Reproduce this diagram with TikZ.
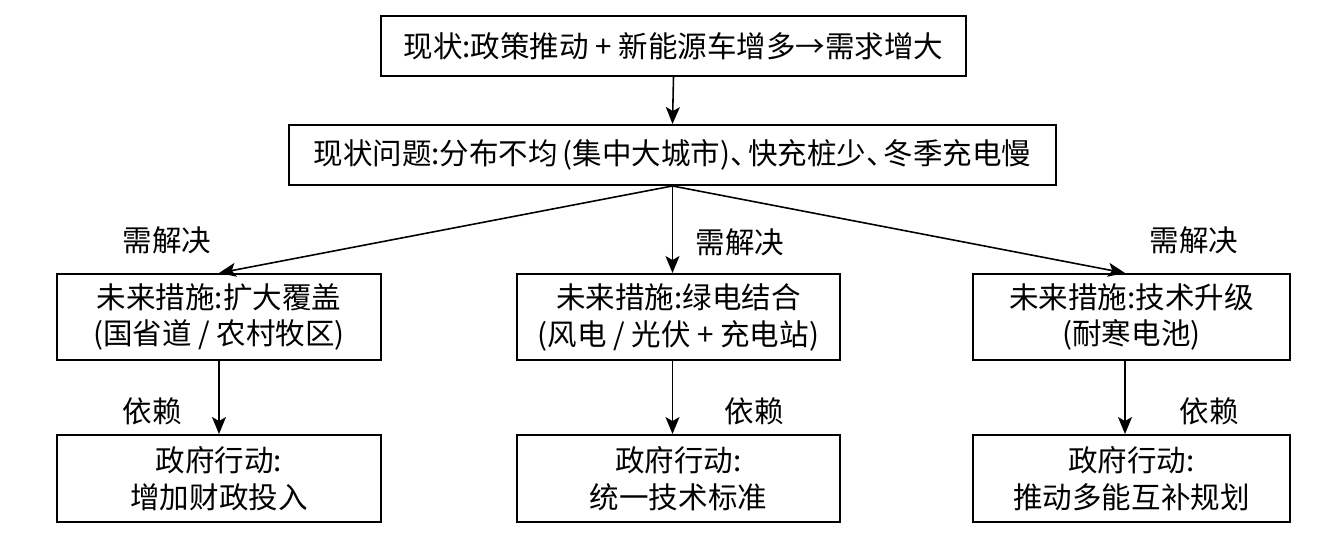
\documentclass[tikz,border=0pt]{standalone}
\usepackage{fontspec}
\setmainfont{Noto Sans CJK SC}
\usetikzlibrary{arrows.meta}
\tikzset{box/.style = {draw, line width = 1.1pt, align = center, inner sep = 0pt, font = \fontsize{16.8}{21}\selectfont}}
\tikzset{lbl/.style = {inner sep = 0pt, font = \fontsize{16.8}{21}\selectfont}}
\tikzset{arr/.style = {-{Stealth[length = 3.4mm, width = 2.8mm, inset = 0.8mm]}, line width = 0.9pt}}

\begin{document}
\begin{tikzpicture}
		\useasboundingbox (0,0) rectangle (26.46,-10.74);
		\node (S)[box, minimum width = 11.7cm, minimum height = 1.2cm] at (13.47,-0.92){现状:政策推动 + 新能源车增多→需求增大};
		\node (P)[box, minimum width = 15.34cm, minimum height = 1.2cm] at (13.45,-3.1){现状问题:分布不均\,(集中大城市)、\hspace{-0.4em}快充桩少、\hspace{-0.4em}冬季充电慢};
		\draw[arr] (S.south) -- (P.north);
		%
		\node (M1)[box, minimum width = 6.48cm, minimum height = 1.72cm] at (4.38,-6.34){未来措施:扩大覆盖\\(国省道 / 农村牧区)};
		\node (M2)[box, minimum width = 6.46cm, minimum height = 1.72cm] at (13.57,-6.34){未来措施:绿电结合\\(风电 / 光伏 + 充电站)};
		\node (M3)[box, minimum width = 6.34cm, minimum height = 1.72cm] at (22.63,-6.34){未来措施:技术升级\\(耐寒电池)};
		\draw[arr] (P.south) -- (M1.north);
		\draw[arr] (P.south) -- (P.south |- M2.north);
		\draw[arr] (P.south) -- ([xshift = -0.13cm]M3.north);
		\node (n1)[lbl] at (3.34,-4.8){需解决};
		\node (n2)[lbl] at (14.8,-4.84){需解决};
		\node (n3)[lbl] at (23.88,-4.8){需解决};
		%
		\node (G1)[box, minimum width = 6.48cm, minimum height = 1.74cm] at (4.38,-9.57){政府行动:\\增加财政投入};
		\node (G2)[box, minimum width = 6.46cm, minimum height = 1.74cm] at (13.57,-9.57){政府行动:\\统一技术标准};
		\node (G3)[box, minimum width = 6.34cm, minimum height = 1.74cm] at (22.63,-9.57){政府行动:\\推动多能互补规划};
		\draw[arr] (M1.south) -- (G1.north);
		\draw[arr] (M2.south -| P.south) -- (G2.north -| P.south);
		\draw[arr] ([xshift = -0.13cm]M3.south) -- ([xshift = -0.13cm]G3.north);
		\node (d1)[lbl] at (3.04,-8.22){依赖};
		\node (d2)[lbl] at (15.08,-8.22){依赖};
		\node (d3)[lbl] at (24.18,-8.22){依赖};
	\end{tikzpicture}
\end{document}
